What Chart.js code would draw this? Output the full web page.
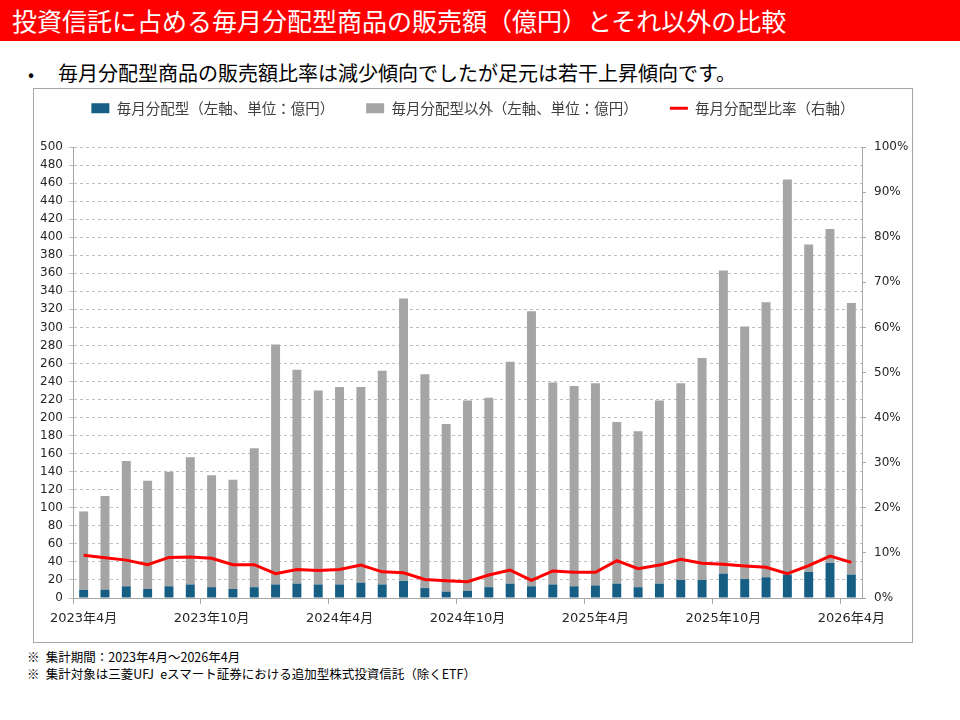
<!DOCTYPE html>
<html lang="ja">

<head>
    <meta charset="UTF-8">
    <title>投資信託に占める毎月分配型商品の販売額</title>
    <script src="https://cdn.jsdelivr.net/npm/chart.js@4/dist/chart.umd.min.js"></script>
    <style>
        body {
            margin: 0;
            width: 960px;
            height: 720px;
            background: #fff;
            font-family: "Noto Sans CJK JP", sans-serif;
            position: relative;
            overflow: hidden;
        }

        .header {
            position: absolute;
            left: 0;
            top: 0;
            width: 960px;
            height: 41px;
            background: #ff0000;
            color: #fff;
            font-size: 25px;
            line-height: 41px;
            padding-left: 12px;
            box-sizing: border-box;
            white-space: nowrap;
        }

        .bullet {
            position: absolute;
            left: 28px;
            top: 58px;
            font-size: 20px;
            color: #000;
            white-space: nowrap;
        }

        .bullet span {
            display: inline-block;
            width: 30px;
            font-size: 18px;
        }

        .chartBox {
            position: absolute;
            left: 33px;
            top: 88px;
            width: 880px;
            height: 555px;
            border: 1px solid #a6a6a6;
            box-sizing: border-box;
        }

        .notes {
            position: absolute;
            left: 27px;
            top: 648px;
            font-size: 12.5px;
            line-height: 17px;
            color: #000;
        }
    </style>
</head>

<body>
    <div class="header">投資信託に占める毎月分配型商品の販売額（億円）とそれ以外の比較</div>
    <div class="bullet"><span>•</span>毎月分配型商品の販売額比率は減少傾向でしたが足元は若干上昇傾向です。</div>

    <div class="chartBox">
        <canvas id="salesChart" width="878" height="553"></canvas>
    </div>

    <div class="notes">
        <div>※&ensp;集計期間：2023年4月～2026年4月</div>
        <div>※&ensp;集計対象は三菱UFJ&ensp;eスマート証券における追加型株式投資信託（除くETF）</div>
    </div>

    <script>
        // 月（2023年4月～2026年4月）
        const months = [
            '2023年4月', '2023年5月', '2023年6月', '2023年7月', '2023年8月', '2023年9月',
            '2023年10月', '2023年11月', '2023年12月', '2024年1月', '2024年2月', '2024年3月',
            '2024年4月', '2024年5月', '2024年6月', '2024年7月', '2024年8月', '2024年9月',
            '2024年10月', '2024年11月', '2024年12月', '2025年1月', '2025年2月', '2025年3月',
            '2025年4月', '2025年5月', '2025年6月', '2025年7月', '2025年8月', '2025年9月',
            '2025年10月', '2025年11月', '2025年12月', '2026年1月', '2026年2月', '2026年3月',
            '2026年4月'
        ];

        // 毎月分配型（億円）
        const monthlyDist = [9, 9, 13, 10, 13, 15, 12, 10, 12, 15, 16, 15, 15, 17, 15, 19, 11, 7, 8,
            12, 16, 13, 15, 13, 14, 16, 12, 16, 20, 20, 27, 21, 23, 26, 29, 39, 26];

        // 毎月分配型以外（億円）
        const otherFunds = [87, 104, 139, 120, 127, 141, 124, 121, 154, 266, 237, 215, 219, 217, 237, 313, 237, 186, 211,
            210, 246, 305, 224, 222, 224, 179, 173, 203, 218, 246, 336, 280, 305, 438, 363, 370, 301];

        // 毎月分配型比率（%）
        const distRatio = [9.5, 8.9, 8.4, 7.4, 9.0, 9.1, 8.8, 7.4, 7.4, 5.4, 6.3, 6.1, 6.3, 7.3, 5.8, 5.6, 4.1, 3.8, 3.6,
            5.1, 6.2, 3.9, 6.0, 5.7, 5.7, 8.3, 6.5, 7.3, 8.6, 7.7, 7.5, 7.1, 6.8, 5.4, 7.2, 9.3, 7.9];

        const tickFont = { family: "'DejaVu Sans', 'Noto Sans CJK JP'", size: 12 };
        const gridGray = '#bfbfbf';
        const axisGray = '#a6a6a6';

        // 凡例の位置を調整
        const legendPos = {
            id: 'legendPos',
            beforeInit(chart) {
                const fit = chart.legend.fit;
                chart.legend.fit = function () {
                    fit.call(this);
                    this.height = 58;
                };
            },
            afterLayout(chart) {
                chart.legend.top = -20;
            }
        };

        const ctx = document.getElementById('salesChart').getContext('2d');
        new Chart(ctx, {
            data: {
                labels: months,
                datasets: [{
                    type: 'bar',
                    label: '毎月分配型（左軸、単位：億円）',
                    data: monthlyDist,
                    backgroundColor: '#165e83',
                    pointStyle: 'rect',
                    yAxisID: 'y',
                    order: 1,
                    barPercentage: 0.42,
                    categoryPercentage: 1
                }, {
                    type: 'bar',
                    label: '毎月分配型以外（左軸、単位：億円）',
                    data: otherFunds,
                    backgroundColor: '#a5a5a5',
                    pointStyle: 'rect',
                    yAxisID: 'y',
                    order: 1,
                    barPercentage: 0.42,
                    categoryPercentage: 1
                }, {
                    type: 'line',
                    label: '毎月分配型比率（右軸）',
                    data: distRatio,
                    borderColor: '#ff0000',
                    backgroundColor: '#ff0000',
                    borderWidth: 3,
                    pointRadius: 0,
                    pointStyle: 'line',
                    tension: 0,
                    yAxisID: 'y1',
                    order: 0
                }]
            },
            options: {
                responsive: false,
                animation: false,
                layout: { padding: 0 },
                plugins: {
                    legend: {
                        position: 'top',
                        labels: {
                            font: { family: "'Noto Sans CJK JP'", size: 14.5 },
                            color: '#404040',
                            usePointStyle: true,
                            pointStyleWidth: 18,
                            boxHeight: 10,
                            padding: 32,
                            sort: (a, b) => a.datasetIndex - b.datasetIndex
                        }
                    },
                    tooltip: { enabled: false }
                },
                scales: {
                    x: {
                        stacked: true,
                        offset: true,
                        grid: {
                            offset: true,
                            drawOnChartArea: false,
                            tickLength: 6,
                            color: c => (c.index % 6 === 0 ? axisGray : 'rgba(0,0,0,0)')
                        },
                        border: { color: axisGray },
                        ticks: {
                            autoSkip: false,
                            maxRotation: 0,
                            font: { family: "'DejaVu Sans', 'Noto Sans CJK JP'", size: 13 },
                            color: '#262626',
                            padding: 7,
                            callback: (v, i) => (i % 6 === 0 ? months[i] : '')
                        },
                        afterFit: s => { s.height = 44; }
                    },
                    y: {
                        stacked: true,
                        position: 'left',
                        min: 0,
                        max: 500,
                        grid: {
                            color: gridGray,
                            tickLength: 4
                        },
                        border: { color: axisGray, dash: [3, 3], display: true },
                        ticks: {
                            stepSize: 20,
                            font: tickFont,
                            color: '#262626',
                            padding: 6
                        },
                        afterFit: s => { s.width = 39; }
                    },
                    y1: {
                        position: 'right',
                        min: 0,
                        max: 100,
                        grid: {
                            drawOnChartArea: false,
                            color: axisGray,
                            tickLength: 4
                        },
                        border: { color: axisGray },
                        ticks: {
                            stepSize: 10,
                            font: tickFont,
                            color: '#262626',
                            padding: 8,
                            callback: v => v + '%'
                        },
                        afterFit: s => { s.width = 50; }
                    }
                }
            },
            plugins: [legendPos]
        });
    </script>
</body>

</html>
